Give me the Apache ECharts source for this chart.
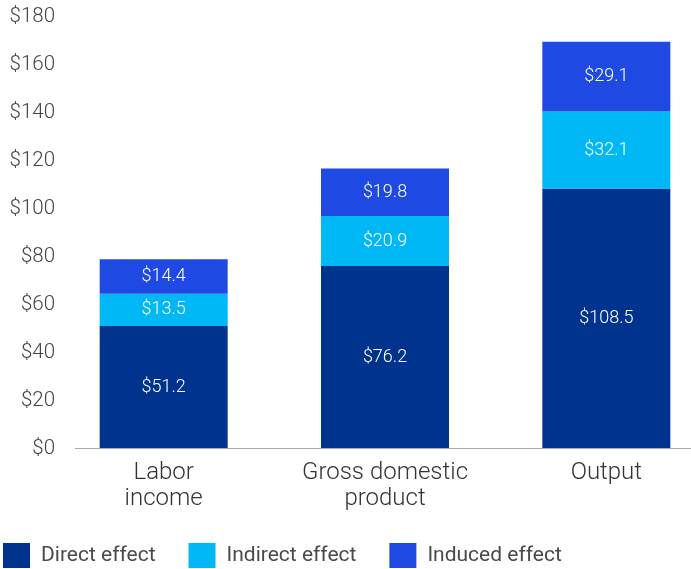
<!DOCTYPE html>
<html><head><meta charset="utf-8">
<script src="https://cdn.jsdelivr.net/npm/echarts@6/dist/echarts.min.js"></script>
<style>html,body{margin:0;padding:0;background:#fff}#c{width:691px;height:569px}</style>
</head><body><div id="c"></div>
<script>
const categories = ['Labor\nincome', 'Gross domestic\nproduct', 'Output'];
const directEffect = [51.2, 76.2, 108.5];
const indirectEffect = [13.5, 20.9, 32.1];
const inducedEffect = [14.4, 19.8, 29.1];
const seriesNames = ['Direct effect', 'Indirect effect', 'Induced effect'];
const colors = ['#00338D', '#00B8F5', '#1E49E2'];
const FONT = 'Roboto, "Liberation Sans", sans-serif';

const chart = echarts.init(document.getElementById('c'), null, {renderer: 'canvas'});
function mk(name, data, color) {
  return {
    name, type: 'bar', stack: 'total', data, barWidth: 128,
    itemStyle: {color},
    label: {show: true, position: 'inside', color: '#fff', fontSize: 18, fontFamily: FONT, fontWeight: 300,
      formatter: p => '$' + p.value.toFixed(1)}
  };
}
chart.setOption({
  animation: false,
  textStyle: {fontFamily: FONT},
  grid: {left: 53, width: 664, top: 17, bottom: 120, containLabel: false, outerBoundsMode: 'none'},
  legend: {
    left: 3, top: 543, padding: 0, itemWidth: 27, itemHeight: 25, itemGap: 33,
    icon: 'rect',
    textStyle: {fontSize: 21, color: '#4a4a4a', fontFamily: FONT, padding: [5, 0, 0, 6]},
    data: seriesNames
  },
  xAxis: {
    type: 'category', data: categories,
    axisLine: {show: false}, axisTick: {show: false},
    axisLabel: {fontSize: 24, color: '#333', lineHeight: 26, margin: 11, fontFamily: FONT, fontWeight: 300}
  },
  yAxis: {
    type: 'value', min: 0, max: 180, interval: 20,
    splitLine: {show: false}, axisLine: {show: false}, axisTick: {show: false},
    axisLabel: {fontSize: 20.5, color: '#444', margin: -2, fontFamily: FONT, fontWeight: 300, formatter: v => '$' + v}
  },
  graphic: [{type: 'line', shape: {x1: 75, y1: 448.5, x2: 691, y2: 448.5}, style: {stroke: '#aaa', lineWidth: 1}, z: 10}],
  series: [
    mk(seriesNames[0], directEffect, colors[0]),
    mk(seriesNames[1], indirectEffect, colors[1]),
    mk(seriesNames[2], inducedEffect, colors[2])
  ]
});
</script></body></html>
